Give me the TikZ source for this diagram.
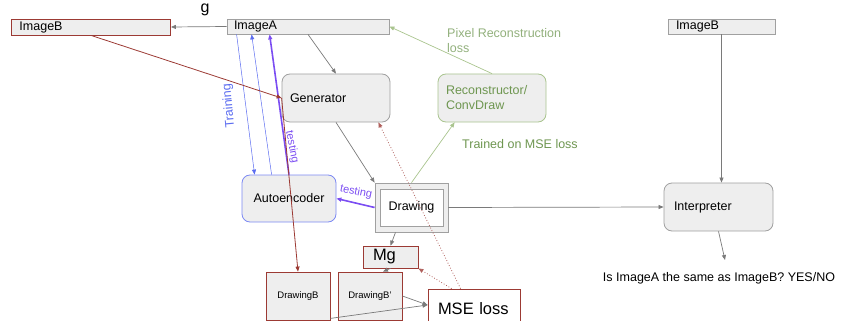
\documentclass[tikz,border=0pt]{standalone}
\usepackage{fontspec}
\setmainfont{Liberation Sans}
\usetikzlibrary{arrows.meta,calc}
\definecolor{boxfill}{HTML}{EEEEEE}
\definecolor{boxline}{HTML}{A0A0A0}
\definecolor{flowgray}{HTML}{7A7A7A}
\definecolor{darkred}{HTML}{9C3A34}
\definecolor{aeblue}{HTML}{5B6CF0}
\definecolor{testpurple}{HTML}{7B4DF2}
\definecolor{reconline}{HTML}{A9C48E}
\definecolor{recontext}{HTML}{6E9650}
\begin{document}
\begin{tikzpicture}[x=1pt, y=-1pt,
    >={Triangle[length=5pt,width=4pt]},
    every node/.style={font=\fontsize{12.5}{15}\selectfont, inner sep=0pt},
    imgbox/.style={draw=boxline, fill=boxfill, line width=0.8pt, inner xsep=8pt, align=left},
    roundbox/.style={imgbox, rounded corners=8pt},
    redbox/.style={imgbox, draw=darkred},
    flow/.style={draw=flowgray, ->, line width=0.7pt},
    redflow/.style={draw=darkred, ->, line width=0.8pt},
    lossflow/.style={draw=darkred!80, ->, dotted, line width=0.8pt},
    aeflow/.style={draw=aeblue, ->, line width=0.5pt},
    testflow/.style={draw=testpurple, ->, line width=1.6pt},
    reconflow/.style={draw=reconline, ->, line width=0.7pt}]
      \useasboundingbox (0,0) rectangle (841,321);
      \clip (0,0) rectangle (841,321);

      \node[redbox, text width=143pt, minimum height=16pt] (imgB) at (91,27) {ImageB};
      \node[imgbox, inner xsep=7pt, text width=148pt, minimum height=15pt] (imgA) at (308,26.5) {ImageA};
      \node[imgbox, text width=91pt, minimum height=15pt] (imgBr) at (721.5,26.5) {ImageB};

      \node[roundbox, text width=92pt, minimum height=48pt] (gen) at (336,98) {Generator};
      \node[roundbox, draw=reconline, text width=92pt, minimum height=48pt, text=recontext] (recon) at (492,98) {Reconstructor/\\ConvDraw};
      \node[roundbox, draw=aeblue!80, align=center, minimum width=94pt, minimum height=47pt] (ae) at (289,198.5) {Autoencoder};
      \node[roundbox, inner xsep=10pt, text width=89pt, minimum height=48pt] (interp) at (718.5,207) {Interpreter};

      \node[imgbox, minimum width=73pt, minimum height=49pt] (drawing) at (411.5,207.5) {};
      \node[draw=boxline, fill=white, line width=0.8pt, minimum width=63pt, minimum height=37pt] (drawingIn) at (411.5,207.5) {Drawing};

      \node[redbox, align=center, minimum width=64pt, minimum height=48pt, font=\fontsize{9.5}{11}\selectfont] (drB) at (298,296) {DrawingB};
      \node[redbox, align=center, minimum width=64pt, minimum height=48pt, font=\fontsize{9.5}{11}\selectfont] (drBp) at (370,296) {DrawingB'};
      \node[redbox, inner xsep=10pt, text width=35pt, minimum height=22pt, font=\fontsize{16.5}{18}\selectfont] (mg) at (390.5,257) {Mg};
      \node[redbox, fill=white, inner xsep=10pt, text width=72pt, minimum height=40pt, font=\fontsize{16.5}{18}\selectfont] (mse) at (474,309) {MSE loss};

      \node[font=\fontsize{16}{18}\selectfont] (g) at (205,10) {g};
      \node[anchor=west, align=left, text=recontext!75] (pixloss) at (447,40.5) {Pixel Reconstruction\\loss};
      \node[anchor=west, text=recontext] (trained) at (462,144) {Trained on MSE loss};
      \node[rotate=95, text=aeblue] (training) at (229,106) {Training};
      \node[rotate=-79, text=testpurple, font=\fontsize{11}{13}\selectfont] (testUp) at (292,147) {testing};
      \node[rotate=-12, text=testpurple, font=\fontsize{11}{13}\selectfont] (testAe) at (356,192) {testing};
      \node (question) at (719,278) {Is ImageA the same as ImageB? YES/NO};
      \coordinate (ans) at (725,260);

      \draw[flow] (imgA.west) -- (imgB.east);
      \draw[flow] (imgA.south) -- (gen.north);
      \draw[flow] (gen.south) -- (drawing.north west);
      \draw[flow] (drawing.east) -- (interp.west);
      \draw[flow] (imgBr.south) -- (imgBr.south |- interp.north);
      \draw[flow] (interp.south) -- (ans);
      \draw[flow] ($(drawing.south)+(-16,0)$) -- (mg.north);
      \draw[flow] (mg.south) -- ($(drBp.north)+(13,0)$);
      \draw[flow] (drBp.east) -- ($(mse.west)+(0,-4)$);
      \draw[flow] ($(drB.south east)+(0,-2)$) -- ($(mse.west)+(0,-4)$);

      \draw[reconflow] (drawing.north) -- ($(recon.south west)+(17,0)$);
      \draw[reconflow] (recon.north) -- (imgA.east);

      \draw[aeflow] ($(imgA.south west)+(10,0)$) -- ($(ae.north west)+(13,0)$);
      \draw[aeflow] ($(ae.north west)+(30,0)$) -- ($(imgA.south west)+(25,0)$);
      \draw[testflow] (ae.north) -- ($(imgA.south west)+(43,0)$);
      \draw[testflow] (drawing.west) -- (ae.east);

      \draw[redflow] (imgB.south) -- (gen.west);
      \draw[redflow] (gen.west) -- (drB.north);
      \draw[lossflow] ($(mse.north west)+(24,0)$) -- (mg.south east);
      \draw[lossflow] ($(mse.north west)+(33,0)$) -- ($(gen.south east)+(-12,0)$);

    \end{tikzpicture}
\end{document}
